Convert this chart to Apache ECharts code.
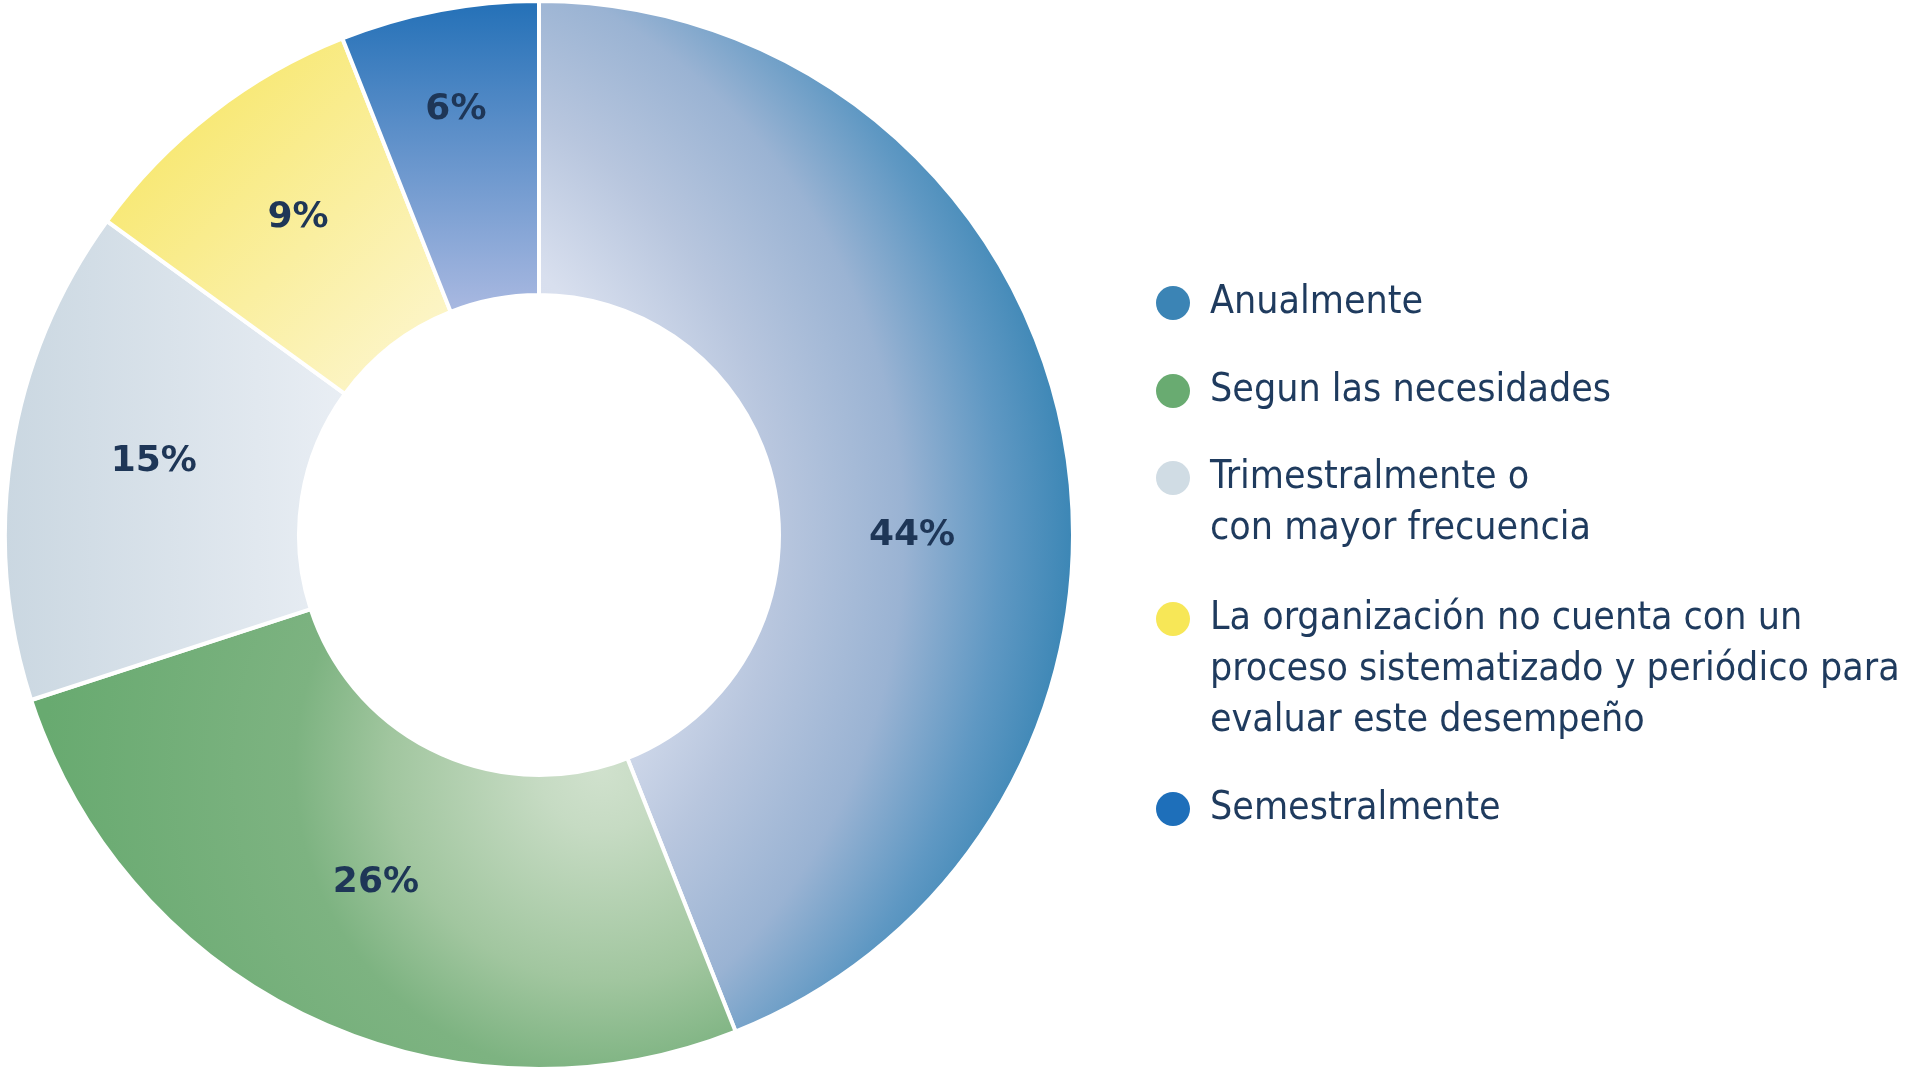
<!DOCTYPE html>
<html>
<head>
<meta charset="utf-8">
<script src="https://cdn.jsdelivr.net/npm/echarts@6/dist/echarts.min.js"></script>
<style>
html,body{margin:0;padding:0;background:#ffffff;}
#chart{width:1906px;height:1067px;}
</style>
</head>
<body>
<div id="chart"></div>
<script>
// ---- data ----
const categories = [
  'Anualmente',
  'Segun las necesidades',
  'Trimestralmente o\ncon mayor frecuencia',
  'La organización no cuenta con un\nproceso sistematizado y periódico para\nevaluar este desempeño',
  'Semestralmente'
];
const values = [44, 26, 15, 9, 6];

// ---- styling / layout (not data) ----
const legendColors = ['#3b84b5', '#69ab71', '#d0dce4', '#f7e757', '#1e6fba'];
const sliceFills = [
  {type:'radial', x:-0.448, y:0.518, r:1.448, colorStops:[
    {offset:0, color:'#e6eaf3'}, {offset:0.46, color:'#d8dfee'}, {offset:0.62, color:'#b8c6de'},
    {offset:0.78, color:'#9ab3d3'}, {offset:0.905, color:'#5f98c3'}, {offset:1, color:'#3b86b5'}]},
  {type:'radial', x:0.807, y:0.35, r:1.2, colorStops:[
    {offset:0, color:'#d0e1cd'}, {offset:0.11, color:'#c6dbc3'}, {offset:0.38, color:'#a1c69f'},
    {offset:0.55, color:'#7db381'}, {offset:1, color:'#68aa70'}]},
  {type:'linear', x:0, y:0, x2:1, y2:0, colorStops:[
    {offset:0, color:'#cad7e1'}, {offset:1, color:'#e9eef4'}]},
  {type:'linear', x:0, y:0, x2:1, y2:1, colorStops:[
    {offset:0, color:'#f6e457'}, {offset:1, color:'#fdf7d6'}]},
  {type:'linear', x:0, y:0, x2:0, y2:1, colorStops:[
    {offset:0, color:'#2370b7'}, {offset:1, color:'#aab9e1'}]}
];
const labelShift = [[-10, 74], [3, -5], [0, -12], [-2, -9], [-10, -42]];
const legendFirstLineY = [303, 391, 478, 619, 809];
const LH = 51;

const chart = echarts.init(document.getElementById('chart'), null, {renderer:'canvas'});

const legends = categories.map((name, i) => {
  const n = name.split('\n').length;
  return {
    show: true,
    orient: 'vertical',
    left: 1156,
    top: legendFirstLineY[i] - (n - 0.5) * LH,
    padding: 0,
    itemWidth: 64,
    itemHeight: 34,
    icon: 'circle',
    selectedMode: false,
    data: [{name: name, itemStyle: {color: legendColors[i], borderWidth: 0}}],
    formatter: (nm) => '\n'.repeat(n - 1) + nm,
    textStyle: {
      fontFamily: '"DejaVu Sans Condensed", "Liberation Sans Narrow", sans-serif',
      fontSize: 39,
      lineHeight: LH,
      color: '#1f3b5e'
    }
  };
});

chart.setOption({
  backgroundColor: '#ffffff',
  animation: false,
  legend: legends,
  series: [{
    type: 'pie',
    center: [539, 535],
    radius: [240, 534],
    startAngle: 90,
    clockwise: true,
    avoidLabelOverlap: false,
    itemStyle: {borderColor: '#ffffff', borderWidth: 4},
    label: {
      show: true,
      position: 'inside',
      formatter: '{c}%',
      fontFamily: '"DejaVu Sans", "Noto Sans", sans-serif',
      fontWeight: 'bold',
      fontSize: 36,
      color: '#1e3657'
    },
    labelLine: {show: false},
    labelLayout: function (p) {
      const s = labelShift[p.dataIndex];
      return {dx: s[0], dy: s[1]};
    },
    emphasis: {disabled: true},
    data: categories.map((name, i) => ({
      name: name,
      value: values[i],
      itemStyle: {color: sliceFills[i]}
    }))
  }]
});
</script>
</body>
</html>
